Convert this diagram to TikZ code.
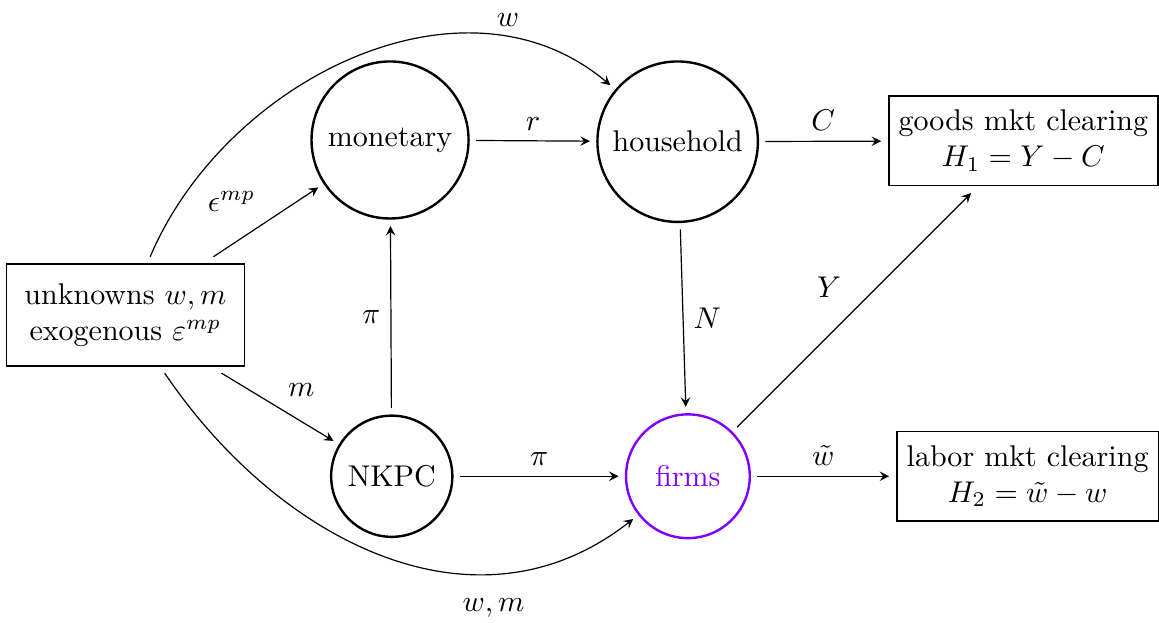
\documentclass[tikz,border=0pt]{standalone}
\usepackage{amsmath,amssymb}
\usepackage{xcolor}
\usepackage{tikz}
\usetikzlibrary{positioning,arrows.meta}
\definecolor{firmcol}{HTML}{8000FF}

\begin{document}
\begin{tikzpicture}
  \tikzset{blk/.style={draw, circle, thick, inner sep=0pt, outer sep=2.5pt},
           cond/.style={draw, semithick, align=center, inner xsep=3.33pt, inner ysep=4.7pt, outer sep=2.5pt},
           arr/.style={->, >=stealth}}
  \useasboundingbox (0,0) rectangle (13.58,7.29);

  \node[cond, inner xsep=6pt, inner ysep=6.4pt] (unk) at (1.47,3.60) {unknowns $w,m$\\exogenous $\varepsilon^{mp}$};
  \node[blk, minimum size=1.84cm] (mon) at (4.57,5.65) {monetary};
  \node[blk, minimum size=1.88cm] (hh) at (7.94,5.63) {household};
  \node[blk, minimum size=1.42cm] (nkpc) at (4.59,1.71) {NKPC};
  \node[blk, minimum size=1.45cm, draw=firmcol, text=firmcol] (firms) at (8.06,1.71) {firms};
  \node[cond] (goods) at (11.99,5.64) {goods mkt clearing\\$H_1 = Y - C$};
  \node[cond] (labor) at (12.04,1.71) {labor mkt clearing\\$H_2 = \tilde{w} - w$};

  \draw[arr] (unk) -- node[above left] {$\epsilon^{mp}$} (mon);
  \draw[arr] (unk) -- node[above right] {$m$} (nkpc);
  \draw[arr] (unk) to[out=67, in=140, looseness=1] node[pos=0.79, above=2.5pt, inner sep=1pt] {$w$} (hh);
  \draw[arr] (unk) to[out=-56, in=-142, looseness=1.05] node[pos=0.72, below=5pt] {$w,m$} (firms);
  \draw[arr] (mon) -- node[above] {$r$} (hh);
  \draw[arr] (nkpc) -- node[left] {$\pi$} (mon);
  \draw[arr] (nkpc) -- node[above] {$\pi$} (firms);
  \draw[arr] (hh) -- node[right] {$N$} (firms);
  \draw[arr] (hh) -- node[above] {$C$} (goods);
  \draw[arr] (firms) -- node[above left=1pt] {$Y$} (goods);
  \draw[arr] (firms) -- node[above] {$\tilde{w}$} (labor);
\end{tikzpicture}
\end{document}
